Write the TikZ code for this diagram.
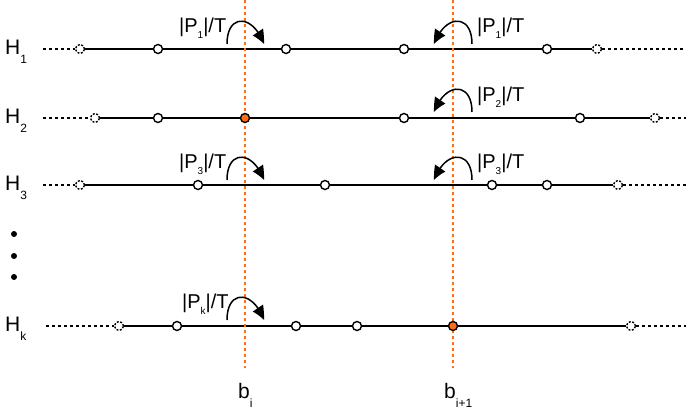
\documentclass[tikz,border=0pt]{standalone}
\usepackage{fontspec}
\setmainfont{Liberation Sans}
\usetikzlibrary{arrows.meta,bending,backgrounds}
\definecolor{borange}{RGB}{255,110,20}
\newcommand\hsub[1]{\raisebox{-9pt}{\fontsize{12}{12}\selectfont #1}}
\newcommand\psub[1]{\raisebox{-6pt}{\fontsize{10}{10}\selectfont #1}}
\begin{document}
\begin{tikzpicture}[x=1pt,y=-1pt,
  pt/.style={circle,draw,fill=white,line width=1.4pt,inner sep=0pt,minimum size=9pt},
  ghost/.style={pt,dash pattern=on 2pt off 1.6pt},
  hit/.style={pt,fill=borange},
  seg/.style={line width=1.5pt},
  dotseg/.style={line width=1.5pt,dash pattern=on 3pt off 3pt},
  bnd/.style={borange,line width=2pt,dash pattern=on 3pt off 3pt},
  hop/.style={line width=1.5pt,-{Triangle[length=14pt,width=12pt,bend]}},
  lab/.style={font=\fontsize{21}{21}\selectfont,inner sep=0pt,anchor=base west},
  plab/.style={font=\fontsize{20}{20}\selectfont,inner sep=0pt,anchor=base west},
  vdot/.style={circle,fill=black,inner sep=0pt,minimum size=6pt}]
\useasboundingbox (0,0) rectangle (686,418);

% ---------- row labels ----------
\node[lab] (h1) at (5,54) {H\hsub{1}};
\node[lab] (h2) at (5,123) {H\hsub{2}};
\node[lab] (h3) at (5,190) {H\hsub{3}};
\node[lab] (hk) at (5,331) {H\hsub{k}};
\node[vdot] (d1) at (14,234) {};
\node[vdot] (d2) at (14,256) {};
\node[vdot] (d3) at (14,277) {};

% ---------- row H1 ----------
\coordinate (s1) at (43,49);
\coordinate (e1) at (686,49);
\node[ghost] (g1a) at (80,49) {};
\node[pt] (a1) at (158,49) {};
\node[pt] (a2) at (286,49) {};
\node[pt] (a3) at (404,49) {};
\node[pt] (a4) at (547,49) {};
\node[ghost] (g1b) at (597,49) {};

% ---------- row H2 ----------
\coordinate (s2) at (43,118);
\coordinate (e2) at (686,118);
\node[ghost] (g2a) at (95,118) {};
\node[pt] (c1) at (158,118) {};
\node[hit] (c2) at (245,118) {};
\node[pt] (c3) at (404,118) {};
\node[pt] (c4) at (580,118) {};
\node[ghost] (g2b) at (655,118) {};

% ---------- row H3 ----------
\coordinate (s3) at (43,185);
\coordinate (e3) at (686,185);
\node[ghost] (g3a) at (80,185) {};
\node[pt] (f1) at (198,185) {};
\node[pt] (f2) at (325,185) {};
\node[pt] (f3) at (492,185) {};
\node[pt] (f4) at (547,185) {};
\node[ghost] (g3b) at (618,185) {};

% ---------- row Hk ----------
\coordinate (sk) at (46,326);
\coordinate (ek) at (686,326);
\node[ghost] (gka) at (119,326) {};
\node[pt] (k1) at (177,326) {};
\node[pt] (k2) at (296,326) {};
\node[pt] (k3) at (357,326) {};
\node[hit] (k4) at (453,326) {};
\node[ghost] (gkb) at (631,326) {};

% ---------- boundaries ----------
\coordinate (bit) at (245,0);
\coordinate (bib) at (245,368);
\coordinate (bjt) at (453,0);
\coordinate (bjb) at (453,368);
\node[lab] (bi) at (238,398) {b\hsub{i}};
\node[lab] (bj) at (444,398) {b\hsub{i+1}};

\begin{scope}[on background layer]
  \draw[dotseg] (s1) -- (g1a);
  \draw[seg] (g1a) -- (g1b);
  \draw[dotseg] (g1b) -- (e1);
  \draw[dotseg] (s2) -- (g2a);
  \draw[seg] (g2a) -- (g2b);
  \draw[dotseg] (g2b) -- (e2);
  \draw[dotseg] (s3) -- (g3a);
  \draw[seg] (g3a) -- (g3b);
  \draw[dotseg] (g3b) -- (e3);
  \draw[dotseg] (sk) -- (gka);
  \draw[seg] (gka) -- (gkb);
  \draw[dotseg] (gkb) -- (ek);
  \draw[bnd] (bit) -- (bib);
  \draw[bnd] (bjt) -- (bjb);
\end{scope}

% ---------- moves ----------
% H1 left
\node[plab] (p1l) at (179,32) {|P\psub{1}|/T};
\coordinate (m1s) at (227,44);
\coordinate (m1e) at (264,44);
\draw[hop] (m1s) .. controls +(0,-31) and +(-11,-30) .. (m1e);
% H1 right
\node[plab] (p1r) at (477,32) {|P\psub{1}|/T};
\coordinate (n1s) at (472,44);
\coordinate (n1e) at (434,44);
\draw[hop] (n1s) .. controls +(0,-31) and +(11,-30) .. (n1e);
% H2 right
\node[plab] (p2r) at (477,101) {|P\psub{2}|/T};
\coordinate (n2s) at (472,112);
\coordinate (n2e) at (434,112);
\draw[hop] (n2s) .. controls +(0,-31) and +(11,-30) .. (n2e);
% H3 left
\node[plab] (p3l) at (179,168) {|P\psub{3}|/T};
\coordinate (m3s) at (227,180);
\coordinate (m3e) at (264,180);
\draw[hop] (m3s) .. controls +(0,-31) and +(-11,-30) .. (m3e);
% H3 right
\node[plab] (p3r) at (477,168) {|P\psub{3}|/T};
\coordinate (n3s) at (472,180);
\coordinate (n3e) at (434,180);
\draw[hop] (n3s) .. controls +(0,-31) and +(11,-30) .. (n3e);
% Hk left
\node[plab] (pkl) at (182,308) {|P\psub{k}|/T};
\coordinate (mks) at (227,320);
\coordinate (mke) at (264,320);
\draw[hop] (mks) .. controls +(0,-31) and +(-11,-30) .. (mke);
\end{tikzpicture}
\end{document}
